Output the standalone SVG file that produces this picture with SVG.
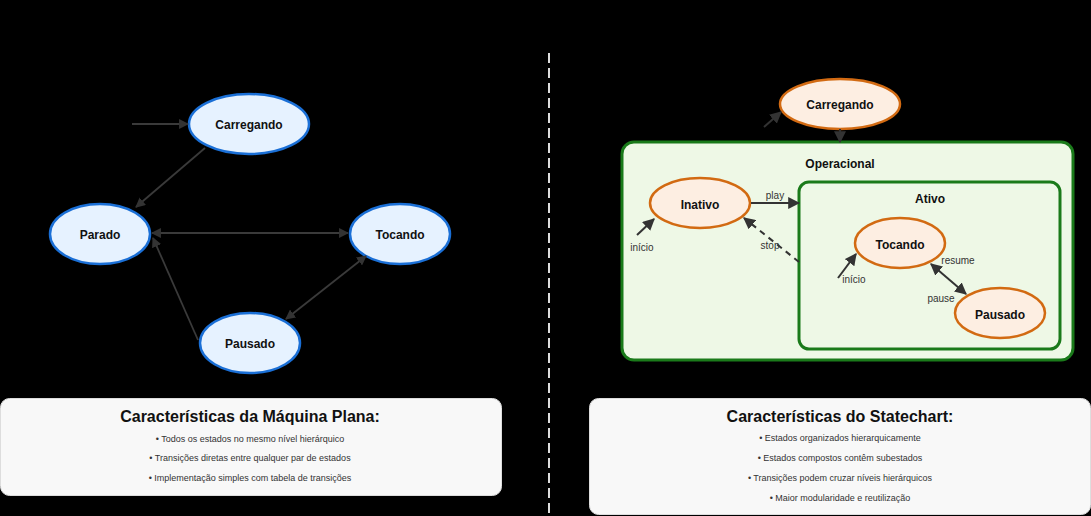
<svg xmlns="http://www.w3.org/2000/svg" width="1091" height="516" viewBox="0 0 1091 516">
<defs>
<style>
.bg{fill:#000}
.fs{fill:#e6f2ff;stroke:#1a6fd6;stroke-width:2.5}
.hs{fill:#fdeee2;stroke:#d26a12;stroke-width:2.5}
.lbl{font-family:"Liberation Sans",Arial,sans-serif;font-weight:bold;font-size:12px;fill:#111;text-anchor:middle;dominant-baseline:central}
.el{font-family:"Liberation Sans",Arial,sans-serif;font-size:10px;fill:#333;text-anchor:middle;dominant-baseline:central}
.ln{stroke:#3a3a3a;stroke-width:1.8;fill:none}
.ln2{stroke:#333;stroke-width:2;fill:none}
.cont{fill:#eef8e6;stroke:#1a7a1a;stroke-width:3}
.box{fill:#f8f8f8;stroke:#ddd;stroke-width:1}
.title{font-family:"Liberation Sans",Arial,sans-serif;font-weight:bold;font-size:16px;fill:#111;text-anchor:middle;dominant-baseline:central}
.item{font-family:"Liberation Sans",Arial,sans-serif;font-size:9px;fill:#333;text-anchor:middle;dominant-baseline:central}
</style>
<marker id="ah" viewBox="0 0 10 10" refX="9" refY="5" markerWidth="5.5" markerHeight="5.5" orient="auto-start-reverse" markerUnits="strokeWidth">
<path d="M0,0 L10,5 L0,10 z" fill="#333"/>
</marker>
<marker id="ah2" viewBox="0 0 10 10" refX="9" refY="5" markerWidth="6" markerHeight="6" orient="auto-start-reverse" markerUnits="strokeWidth">
<path d="M0,0 L10,5 L0,10 z" fill="#333"/>
</marker>
</defs>
<rect class="bg" x="0" y="0" width="1091" height="516"/>
<line x1="549" y1="53" x2="549" y2="516" stroke="#ddd" stroke-width="2" stroke-dasharray="10,5"/>

<g id="flat-carregando"><ellipse class="fs" cx="249" cy="124" rx="60" ry="30"/><text class="lbl" x="249" y="125">Carregando</text></g>
<g id="flat-parado"><ellipse class="fs" cx="100" cy="234" rx="50" ry="30"/><text class="lbl" x="100" y="235">Parado</text></g>
<g id="flat-tocando"><ellipse class="fs" cx="400" cy="234" rx="50" ry="30"/><text class="lbl" x="400" y="235">Tocando</text></g>
<g id="flat-pausado"><ellipse class="fs" cx="250" cy="343" rx="50" ry="30"/><text class="lbl" x="250" y="344">Pausado</text></g>

<g id="sc-carregando"><ellipse class="hs" cx="840" cy="104" rx="60" ry="25"/><text class="lbl" x="840" y="105">Carregando</text></g>

<g id="sc-operacional">
<rect class="cont" x="622" y="142" width="451" height="218" rx="12"/>
<text class="lbl" x="840" y="164">Operacional</text>
</g>
<g id="sc-ativo">
<rect class="cont" x="799" y="182" width="261" height="167" rx="10"/>
<text class="lbl" x="930" y="199">Ativo</text>
</g>
<g id="sc-inativo"><ellipse class="hs" cx="700" cy="203" rx="50" ry="25"/><text class="lbl" x="700" y="205">Inativo</text></g>
<g id="sc-tocando"><ellipse class="hs" cx="900" cy="243" rx="45" ry="25"/><text class="lbl" x="900" y="245">Tocando</text></g>
<g id="sc-pausado"><ellipse class="hs" cx="1000" cy="313" rx="45" ry="25"/><text class="lbl" x="1000" y="315">Pausado</text></g>

<g id="connectors">
<line class="ln" x1="132" y1="124" x2="188" y2="124" marker-end="url(#ah)"/>
<line class="ln" x1="205" y1="148" x2="136" y2="207" marker-end="url(#ah)"/>
<line class="ln" x1="152" y1="233" x2="348" y2="233" marker-start="url(#ah)" marker-end="url(#ah)"/>
<line class="ln" x1="366" y1="256" x2="286" y2="319" marker-start="url(#ah)" marker-end="url(#ah)"/>
<line class="ln" x1="198" y1="340" x2="153" y2="238" marker-end="url(#ah)"/>

<line class="ln2" x1="764" y1="127" x2="781" y2="112" marker-end="url(#ah2)"/>
<line class="ln2" x1="840" y1="129" x2="840" y2="142" marker-end="url(#ah2)"/>
<line class="ln2" x1="751" y1="203" x2="799" y2="203" marker-end="url(#ah2)"/>
<line class="ln2" x1="799" y1="262" x2="744" y2="218" stroke="#555" stroke-dasharray="6,5" marker-end="url(#ah2)"/>
<line class="ln2" x1="637" y1="235" x2="654" y2="219" marker-end="url(#ah2)"/>
<line class="ln2" x1="838" y1="278" x2="856" y2="254" stroke-width="1.5" marker-end="url(#ah2)"/>
<line class="ln2" x1="931" y1="264" x2="966" y2="294" marker-start="url(#ah2)" marker-end="url(#ah2)"/>
</g>

<g id="edge-labels">
<text class="el" x="775" y="195">play</text>
<text class="el" x="770" y="245">stop</text>
<text class="el" x="642" y="247">início</text>
<text class="el" x="854" y="279">início</text>
<text class="el" x="958" y="260">resume</text>
<text class="el" x="941" y="298">pause</text>
</g>

<g id="flat-notes">
<rect class="box" x="0.5" y="398.5" width="501" height="97" rx="9"/>
<text class="title" x="250" y="416">Características da Máquina Plana:</text>
<text class="item" x="250" y="439">• Todos os estados no mesmo nível hierárquico</text>
<text class="item" x="250" y="458">• Transições diretas entre qualquer par de estados</text>
<text class="item" x="250" y="478">• Implementação simples com tabela de transições</text>
</g>
<g id="statechart-notes">
<rect class="box" x="589.5" y="398.5" width="501" height="116" rx="9"/>
<text class="title" x="840" y="416">Características do Statechart:</text>
<text class="item" x="840" y="438">• Estados organizados hierarquicamente</text>
<text class="item" x="840" y="458">• Estados compostos contêm subestados</text>
<text class="item" x="840" y="478">• Transições podem cruzar níveis hierárquicos</text>
<text class="item" x="840" y="498">• Maior modularidade e reutilização</text>
</g>
</svg>
